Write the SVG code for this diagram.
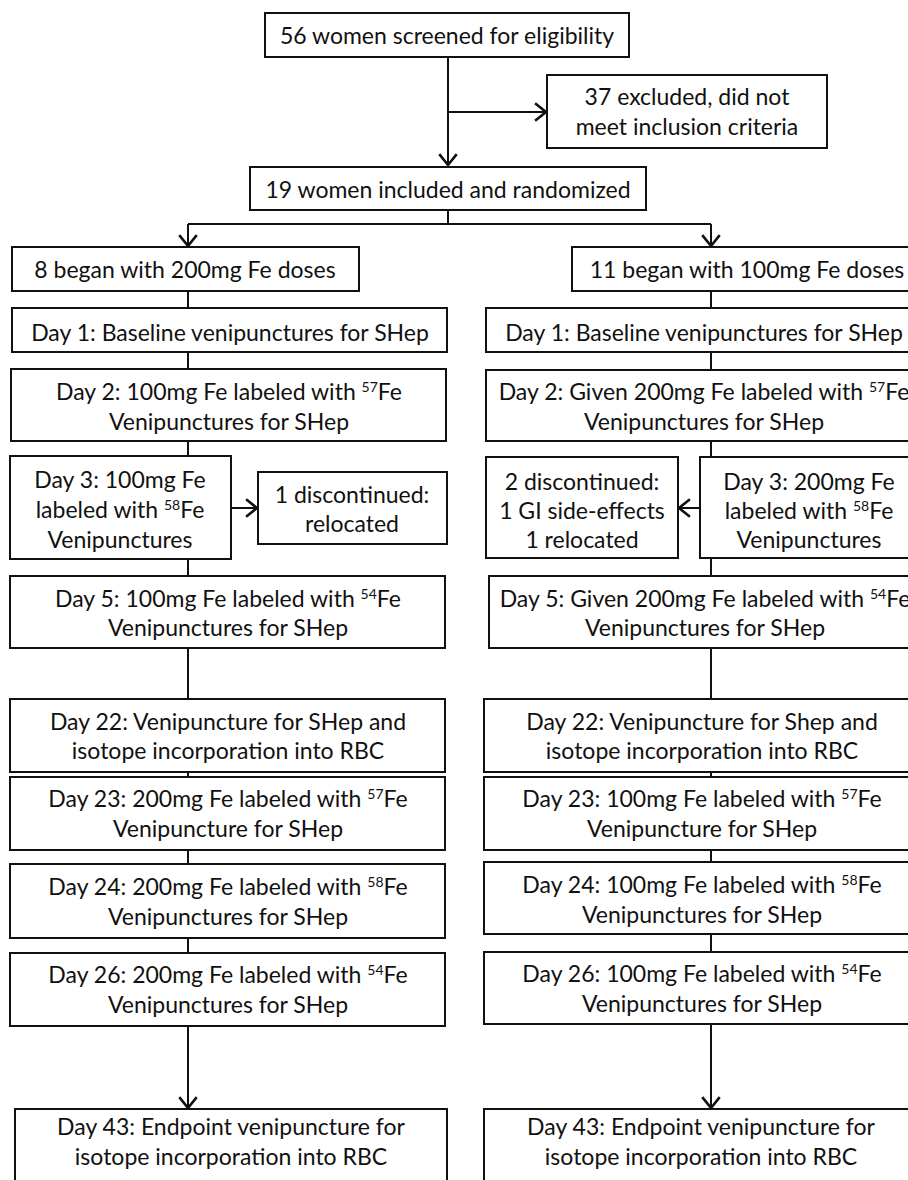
<svg xmlns="http://www.w3.org/2000/svg" width="908" height="1180" viewBox="0 0 908 1180">
<style>
.box{fill:#fff;stroke:#111;stroke-width:2}
.t{font-family:Lato,"Open Sans","Liberation Sans",sans-serif;font-size:23px;fill:#111;text-anchor:middle}
.sup{font-size:14px}
.c{fill:none;stroke:#111;stroke-width:2}
</style>
<defs>
<marker id="ah" markerUnits="userSpaceOnUse" markerWidth="24" markerHeight="24" viewBox="-13 -11 15 22" refX="0" refY="0" orient="auto">
<path d="M-10,-8 L0,0 L-10,8" fill="none" stroke="#111" stroke-width="2.4"/>
</marker>
</defs>
<rect width="908" height="1180" fill="#fff"/>
<g id="connectors">
<path class="c" d="M448,57 V165" marker-end="url(#ah)"/>
<path class="c" d="M448,112 H546" marker-end="url(#ah)"/>
<path class="c" d="M448,210 V224 M188,224 H711"/>
<path class="c" d="M188,224 V246" marker-end="url(#ah)"/>
<path class="c" d="M711,224 V246" marker-end="url(#ah)"/>
<path class="c" d="M188,291 V308 M188,352 V369 M188,441 V456 M188,559 V576 M188,648 V699 M188,772 V777 M188,850 V864 M188,938 V953"/>
<path class="c" d="M188,1026 V1108" marker-end="url(#ah)"/>
<path class="c" d="M231,508 H257" marker-end="url(#ah)"/>
<path class="c" d="M711,291 V308 M711,352 V370 M711,441 V457 M711,558 V576 M711,648 V699 M711,772 V777 M711,850 V862 M711,934 V952"/>
<path class="c" d="M711,1024 V1108" marker-end="url(#ah)"/>
<path class="c" d="M700,508 H679" marker-end="url(#ah)"/>
</g>
<g id="screened"><rect class="box" x="265" y="13" width="364" height="44"/><text class="t" x="447" y="44">56 women screened for eligibility</text></g>
<g id="excluded"><rect class="box" x="547" y="75" width="280" height="73"/><text class="t" x="687" y="105">37 excluded, did not</text><text class="t" x="687" y="135">meet inclusion criteria</text></g>
<g id="randomized"><rect class="box" x="250" y="167" width="396" height="43"/><text class="t" x="448" y="198">19 women included and randomized</text></g>
<g id="L-began"><rect class="box" x="12" y="247" width="347" height="44"/><text class="t" x="185" y="278">8 began with 200mg Fe doses</text></g>
<g id="R-began"><rect class="box" x="572" y="247" width="350" height="44"/><text class="t" x="747" y="278">11 began with 100mg Fe doses</text></g>
<g id="L-day1"><rect class="box" x="12" y="308" width="435" height="44"/><text class="t" x="230" y="341">Day 1: Baseline venipunctures for SHep</text></g>
<g id="R-day1"><rect class="box" x="486" y="308" width="436" height="44"/><text class="t" x="704" y="341">Day 1: Baseline venipunctures for SHep</text></g>
<g id="L-day2"><rect class="box" x="11" y="369" width="435" height="72"/><text class="t" x="229" y="400">Day 2: 100mg Fe labeled with <tspan class="sup" dy="-8">57</tspan><tspan dy="8">Fe</tspan></text><text class="t" x="229" y="430">Venipunctures for SHep</text></g>
<g id="R-day2"><rect class="box" x="486" y="370" width="436" height="71"/><text class="t" x="704" y="400">Day 2: Given 200mg Fe labeled with <tspan class="sup" dy="-8">57</tspan><tspan dy="8">Fe</tspan></text><text class="t" x="704" y="430">Venipunctures for SHep</text></g>
<g id="L-day3"><rect class="box" x="10" y="456" width="221" height="103"/><text class="t" x="120" y="488">Day 3: 100mg Fe</text><text class="t" x="120" y="518">labeled with <tspan class="sup" dy="-8">58</tspan><tspan dy="8">Fe</tspan></text><text class="t" x="120" y="548">Venipunctures</text></g>
<g id="L-disc"><rect class="box" x="258" y="472" width="189" height="72"/><text class="t" x="352" y="503">1 discontinued:</text><text class="t" x="352" y="532">relocated</text></g>
<g id="R-disc"><rect class="box" x="486" y="457" width="192" height="101"/><text class="t" x="582" y="490">2 discontinued:</text><text class="t" x="582" y="519">1 GI side-effects</text><text class="t" x="582" y="548">1 relocated</text></g>
<g id="R-day3"><rect class="box" x="700" y="457" width="218" height="101"/><text class="t" x="809" y="490">Day 3: 200mg Fe</text><text class="t" x="809" y="519">labeled with <tspan class="sup" dy="-8">58</tspan><tspan dy="8">Fe</tspan></text><text class="t" x="809" y="548">Venipunctures</text></g>
<g id="L-day5"><rect class="box" x="10" y="576" width="435" height="72"/><text class="t" x="228" y="607">Day 5: 100mg Fe labeled with <tspan class="sup" dy="-8">54</tspan><tspan dy="8">Fe</tspan></text><text class="t" x="228" y="636">Venipunctures for SHep</text></g>
<g id="R-day5"><rect class="box" x="489" y="576" width="433" height="72"/><text class="t" x="705" y="607">Day 5: Given 200mg Fe labeled with <tspan class="sup" dy="-8">54</tspan><tspan dy="8">Fe</tspan></text><text class="t" x="705" y="636">Venipunctures for SHep</text></g>
<g id="L-day22"><rect class="box" x="10" y="699" width="435" height="73"/><text class="t" x="228" y="730">Day 22: Venipuncture for SHep and</text><text class="t" x="228" y="759">isotope incorporation into RBC</text></g>
<g id="R-day22"><rect class="box" x="484" y="699" width="436" height="73"/><text class="t" x="702" y="730">Day 22: Venipuncture for Shep and</text><text class="t" x="702" y="759">isotope incorporation into RBC</text></g>
<g id="L-day23"><rect class="box" x="10" y="777" width="435" height="73"/><text class="t" x="228" y="807">Day 23: 200mg Fe labeled with <tspan class="sup" dy="-8">57</tspan><tspan dy="8">Fe</tspan></text><text class="t" x="228" y="837">Venipuncture for SHep</text></g>
<g id="R-day23"><rect class="box" x="484" y="777" width="436" height="73"/><text class="t" x="702" y="807">Day 23: 100mg Fe labeled with <tspan class="sup" dy="-8">57</tspan><tspan dy="8">Fe</tspan></text><text class="t" x="702" y="837">Venipuncture for SHep</text></g>
<g id="L-day24"><rect class="box" x="10" y="864" width="435" height="74"/><text class="t" x="228" y="895">Day 24: 200mg Fe labeled with <tspan class="sup" dy="-8">58</tspan><tspan dy="8">Fe</tspan></text><text class="t" x="228" y="925">Venipunctures for SHep</text></g>
<g id="R-day24"><rect class="box" x="484" y="862" width="436" height="72"/><text class="t" x="702" y="893">Day 24: 100mg Fe labeled with <tspan class="sup" dy="-8">58</tspan><tspan dy="8">Fe</tspan></text><text class="t" x="702" y="923">Venipunctures for SHep</text></g>
<g id="L-day26"><rect class="box" x="10" y="953" width="435" height="73"/><text class="t" x="228" y="983">Day 26: 200mg Fe labeled with <tspan class="sup" dy="-8">54</tspan><tspan dy="8">Fe</tspan></text><text class="t" x="228" y="1013">Venipunctures for SHep</text></g>
<g id="R-day26"><rect class="box" x="484" y="952" width="436" height="72"/><text class="t" x="702" y="982">Day 26: 100mg Fe labeled with <tspan class="sup" dy="-8">54</tspan><tspan dy="8">Fe</tspan></text><text class="t" x="702" y="1012">Venipunctures for SHep</text></g>
<g id="L-day43"><rect class="box" x="15" y="1109" width="432" height="90"/><text class="t" x="231" y="1135">Day 43: Endpoint venipuncture for</text><text class="t" x="231" y="1165">isotope incorporation into RBC</text></g>
<g id="R-day43"><rect class="box" x="484" y="1109" width="436" height="90"/><text class="t" x="701" y="1135">Day 43: Endpoint venipuncture for</text><text class="t" x="701" y="1165">isotope incorporation into RBC</text></g>
</svg>
